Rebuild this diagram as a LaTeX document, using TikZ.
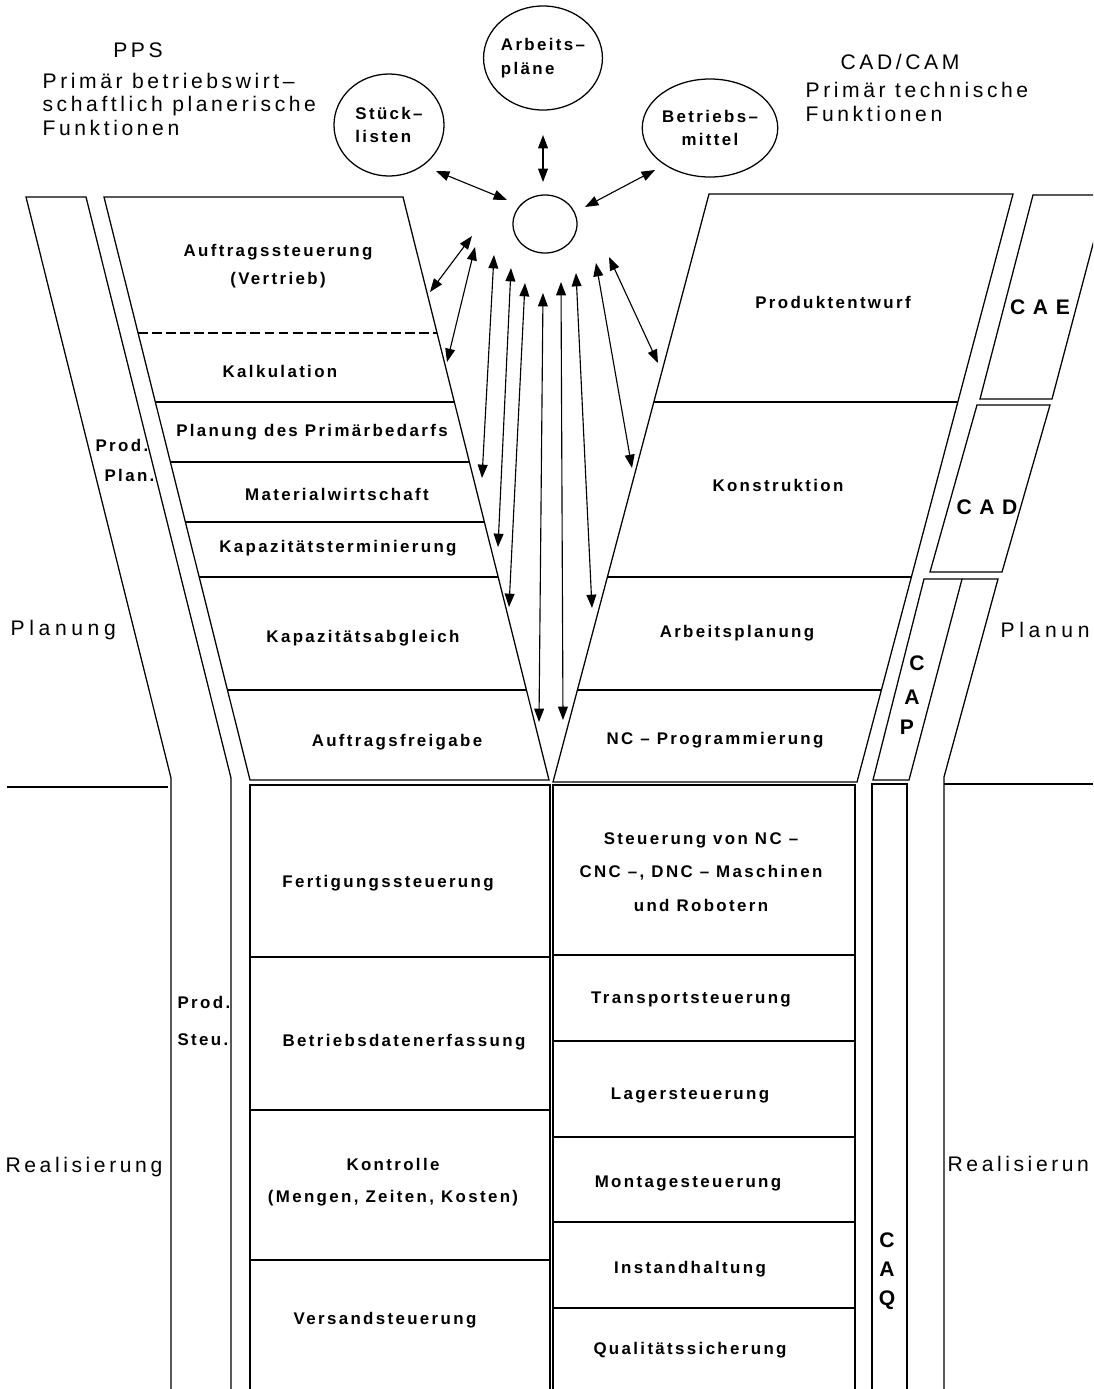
\documentclass[tikz,border=0pt]{standalone}
\usepackage{fontspec}
\setmainfont{Liberation Sans}
\newfontfamily\hdfont{Liberation Sans}[LetterSpace=17]
\newfontfamily\sidefont{Liberation Sans}[LetterSpace=22]
\newfontfamily\bxfont{Liberation Sans}[LetterSpace=14]
\newfontfamily\tagfont{Liberation Sans}[LetterSpace=36]
\usepackage{tikz}
\usetikzlibrary{arrows.meta, shapes.geometric}

\begin{document}
\begin{tikzpicture}[x=0.025cm, y=-0.025cm, line width=0.9pt, >={Triangle[length=9.5pt,width=7pt]},
		lbl/.style={font=\bxfont\bfseries\fontsize{12}{20}\selectfont, align=center, inner sep=0pt},
		head/.style={font=\hdfont\fontsize{15}{16.7}\selectfont, inner sep=0pt},
		side/.style={font=\sidefont\fontsize{15}{18}\selectfont, inner sep=0pt, anchor=west},
		tag/.style={font=\tagfont\bfseries\fontsize{15}{20.6}\selectfont, inner sep=0pt, align=center},
		store/.style={draw, ellipse, inner sep=0pt, font=\bxfont\bfseries\fontsize{12}{17}\selectfont},
		link/.style={<->, line width=0.8pt}]
			\useasboundingbox (0,0) rectangle (1093,1389);
			\clip (0,0) rectangle (1093,1389);
			\draw (171,1392) -- (171,778) -- (26,197) -- (86,197) -- (231,778) -- (231,1392);
			\draw (7,787) -- (168,787);
			\draw (104,197) -- (403,197) -- (549,780) -- (250,780) -- cycle;
			\draw[dash pattern=on 7pt off 3pt] (138,333) -- (437,333);
			\foreach \y in {402,462,522,577,690}
			\draw ({104+0.25*(\y-197)},\y) -- ({403+0.25*(\y-197)},\y);
			\draw (250,1392) -- (250,785) -- (550,785) -- (550,1392);
			\foreach \y in {957,1110,1260}
			\draw (250,\y) -- (550,\y);
			\draw (709,194) -- (1013,194) -- (857,782) -- (553,782) -- cycle;
			\foreach \y in {402,577,690}
			\draw ({709-0.265*(\y-194)},\y) -- ({1013-0.265*(\y-194)},\y);
			\draw (553,1392) -- (553,785) -- (855,785) -- (855,1392);
			\foreach \y in {955,1041,1137,1222,1308}
			\draw (553,\y) -- (855,\y);
			\draw (1106,195) -- (1033,195) -- (980,399) -- (1052,399) -- cycle;
			\draw (977,405) -- (1050,405) -- (1002,572) -- (930,572) -- cycle;
			\draw (924,579) -- (962,579) -- (909,780) -- (873,780) -- cycle;
			\draw (962,579) -- (998,579) -- (944,777) -- (944,1392);
			\draw (872,1392) -- (872,784) -- (907,784) -- (907,1392);
			\draw (944,784) -- (1093,784);
			\node[head] (pps) at (138,50) {PPS};
			\node[head, anchor=west, align=left] (ppstxt) at (42,104) {Primär betriebswirt–\\schaftlich planerische\\Funktionen};
			\node[head] (cadcam) at (900,62) {CAD/CAM};
			\node[head, anchor=west, align=left] (cadtxt) at (805,102) {Primär technische\\Funktionen};
			\node[store, minimum width=2.75cm, minimum height=2.55cm, align=left] (stueck) at (389,125) {Stück–\\listen};
			\node[store, minimum width=2.75cm, minimum height=2.6cm, align=left] (arbpl) at (543,58) {Arbeits–\\pläne};
			\node[store, minimum width=2.65cm, minimum height=2.45cm, align=center] (betrmit) at (710,128) {Betriebs–\\mittel};
			\node[store, minimum width=1.6cm, minimum height=1.45cm] (db) at (545,224) {};
			\node[lbl] (auftrag) at (278,266) {Auftragssteuerung\\(Vertrieb)};
			\node[lbl] (kalk) at (280,371) {Kalkulation};
			\node[lbl] (primbed) at (312,432) {Planung des Primärbedarfs};
			\node[lbl] (mawi) at (337,494) {Materialwirtschaft};
			\node[lbl] (kapterm) at (338,548) {Kapazitätsterminierung};
			\node[lbl] (kapabg) at (363,638) {Kapazitätsabgleich};
			\node[lbl] (freigabe) at (397,742) {Auftragsfreigabe};
			\node[lbl] (entwurf) at (833,302) {Produktentwurf};
			\node[lbl] (konstr) at (778,485) {Konstruktion};
			\node[lbl] (arbplan) at (737,633) {Arbeitsplanung};
			\node[lbl] (ncprog) at (715,740) {NC – Programmierung};
			\node[lbl] (fertsteu) at (388,883) {Fertigungssteuerung};
			\node[lbl] (bde) at (404,1042) {Betriebsdatenerfassung};
			\node[lbl, font=\bxfont\bfseries\fontsize{12}{23}\selectfont] (kontr) at (393,1182) {Kontrolle\\(Mengen, Zeiten, Kosten)};
			\node[lbl] (versand) at (385,1320) {Versandsteuerung};
			\node[lbl, font=\bxfont\bfseries\fontsize{12}{24}\selectfont] (ncsteu) at (701,872) {Steuerung von NC –\\CNC –, DNC – Maschinen\\und Robotern};
			\node[lbl] (transp) at (691,999) {Transportsteuerung};
			\node[lbl] (lager) at (690,1095) {Lagersteuerung};
			\node[lbl] (montage) at (688,1183) {Montagesteuerung};
			\node[lbl] (instand) at (690,1269) {Instandhaltung};
			\node[lbl] (qs) at (690,1350) {Qualitätssicherung};
			\node[lbl, anchor=west] (prod) at (95,445) {Prod.};
			\node[lbl, anchor=west] (plan) at (104,475) {Plan.};
			\node[lbl, anchor=west, align=left, font=\bxfont\bfseries\fontsize{12}{26}\selectfont] (prodsteu) at (177,1021) {Prod.\\Steu.};
			\node[tag] (cae) at (1040,307) {CAE};
			\node[tag] (cad) at (987,507) {CAD};
			\foreach \c/\x/\y in {C/917/663, A/912/697, P/907/727}
			\node[tag] (cap\c) at (\x,\y) {\c};
			\node[tag] (caq) at (887,1271) {C\\A\\Q};
			\node[side] (planl) at (10,630) {Planung};
			\node[side, font=\hdfont\fontsize{15}{18}\selectfont] (reall) at (5,1167) {Realisierung};
			\node[side] (planr) at (1000,630) {Planun};
			\node[side, font=\hdfont\fontsize{15}{18}\selectfont] (realr) at (947,1164) {Realisierun};
			\foreach \i/\xa/\ya/\xb/\yb in {1/436/171/507/200, 2/543/135/543/182, 3/655/170/585/207,
				4/472/236/430/292, 5/475/247/447/362, 6/494/255/482/478, 7/511/268/498/547,
				8/525/283/509/607, 9/543/293/539/722, 10/561/282/563/720, 11/576/273/592/608,
				12/596/263/632/468, 13/609/257/658/363}
			{
				\coordinate (a\i) at (\xa,\ya);
				\coordinate (b\i) at (\xb,\yb);
				\draw[link] (a\i) -- (b\i);
			}
		\end{tikzpicture}
\end{document}
